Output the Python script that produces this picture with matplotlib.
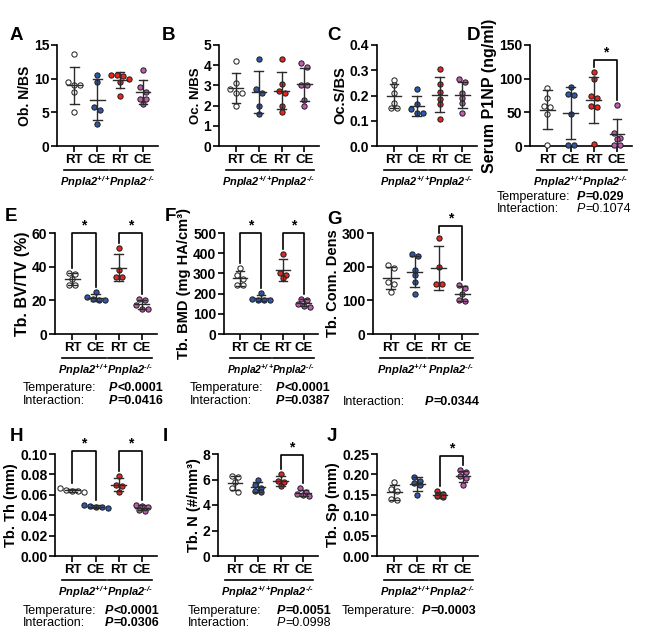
import numpy as np
import matplotlib
matplotlib.use('Agg')
import matplotlib.pyplot as plt
from matplotlib import transforms
from matplotlib.lines import Line2D
from matplotlib.text import Annotation

plt.rcParams['font.family'] = 'Liberation Sans'
plt.rcParams['font.weight'] = 'bold'
plt.rcParams['axes.labelweight'] = 'bold'
plt.rcParams['mathtext.fontset'] = 'custom'
plt.rcParams['mathtext.rm'] = 'Liberation Sans:italic:bold'
plt.rcParams['mathtext.it'] = 'Liberation Sans:italic:bold'
plt.rcParams['mathtext.bf'] = 'Liberation Sans:italic:bold'

# groups: Pnpla2+/+ RT, Pnpla2+/+ CE, Pnpla2-/- RT, Pnpla2-/- CE
groups = ['RT', 'CE', 'RT', 'CE']
genotypes = ['Pnpla2$^{+/+}$', 'Pnpla2$^{\u2010/\u2010}$']
colors = ['white', '#2f58a8', '#e8251f', '#c25bb3']

ob_nbs = [[13.6, 9.5, 9.0, 9.0, 8.0, 5.1],
          [10.5, 9.5, 5.8, 5.3, 3.2],
          [10.6, 10.5, 10.4, 10.0, 9.5, 7.5],
          [11.3, 8.7, 8.0, 7.0, 7.0, 6.2]]
oc_nbs = [[4.2, 3.1, 2.8, 2.6, 2.6, 2.0],
          [4.3, 2.8, 2.6, 2.0, 1.6],
          [4.3, 3.05, 2.7, 2.6, 2.0, 1.7],
          [4.1, 3.9, 3.0, 3.0, 2.3, 2.0]]
oc_sbs = [[0.26, 0.24, 0.21, 0.17, 0.15, 0.15],
          [0.225, 0.165, 0.145, 0.13, 0.13],
          [0.305, 0.245, 0.215, 0.185, 0.165, 0.105],
          [0.265, 0.255, 0.21, 0.19, 0.17, 0.13]]
p1np = [[86, 71, 59, 58, 48, 2],
        [88, 77, 76, 48, 2, 2],
        [110, 100, 75, 72, 60, 58, 3],
        [61, 19, 12, 10, 2, 2]]
bv_tv = [[36.5, 35.5, 32.5, 29, 29],
         [25, 22, 20.5, 20, 20],
         [51, 38, 34, 34],
         [20.5, 20, 17.5, 15, 15]]
bmd = [[329, 290, 270, 245, 242],
       [205, 175, 170, 168, 168],
       [398, 300, 292, 275],
       [175, 170, 150, 140, 135]]
conn_dens = [[205, 195, 155, 150, 125],
             [238, 232, 190, 175, 155, 120],
             [285, 200, 148, 148],
             [145, 138, 118, 100, 98]]
tb_th = [[0.067, 0.065, 0.064, 0.064, 0.063],
         [0.050, 0.049, 0.048, 0.048, 0.047],
         [0.078, 0.070, 0.069, 0.063],
         [0.050, 0.049, 0.048, 0.045, 0.044]]
tb_n = [[6.3, 6.2, 5.8, 5.3, 5.0],
        [6.0, 5.6, 5.3, 5.1, 5.0],
        [6.4, 5.9, 5.8, 5.5],
        [5.3, 5.0, 4.9, 4.8, 4.7]]
tb_sp = [[0.182, 0.163, 0.160, 0.140, 0.138],
         [0.193, 0.185, 0.180, 0.175, 0.150],
         [0.160, 0.152, 0.146, 0.144],
         [0.210, 0.207, 0.195, 0.190, 0.175]]

W, H = 653, 632
fig = plt.figure(figsize=(W / 100, H / 100), dpi=100)

# letter, data, ylabel, ylabel size, ymax, ystep, fmt, axes box (px), letter pos (px),
# brackets (x1, x2, top), stats [(label, p-value text, bold)], stats pos (label x, value x, y)
panels = [
    ('A', ob_nbs, 'Ob. N/BS', 10, 15, 5, '%d', (57, 45, 158, 146), (10, 27), [], [], None),
    ('B', oc_nbs, 'Oc. N/BS', 9.5, 5, 1, '%d', (219, 45, 319, 146), (162, 27), [], [], None),
    ('C', oc_sbs, 'Oc.S/BS', 10.5, 0.4, 0.1, '%.1f', (377, 45, 477, 146), (327, 27), [], [], None),
    ('D', p1np, 'Serum P1NP (ng/ml)', 11.5, 150, 50, '%d', (530, 45, 632, 146), (467, 27),
     [(2, 3, 128)], [('Temperature:', '=0.029', True), ('Interaction:', '=0.1074', False)], (497, 577, 197)),
    ('E', bv_tv, 'Tb. BV/TV (%)', 11.5, 60, 20, '%d', (55, 233, 157, 334), (5, 208),
     [(0, 1, 60), (2, 3, 60)], [('Temperature:', '<0.0001', True), ('Interaction:', '=0.0416', True)], (23, 109, 388)),
    ('F', bmd, 'Tb. BMD (mg HA/cm³)', 10.5, 500, 100, '%d', (224, 233, 318, 334), (165, 208),
     [(0, 1, 500), (2, 3, 500)], [('Temperature:', '<0.0001', True), ('Interaction:', '=0.0387', True)], (190, 276, 388)),
    ('G', conn_dens, 'Tb. Conn. Dens', 10.5, 300, 100, '%d', (373, 233, 478, 334), (327, 211),
     [(2, 3, 320)], [('Interaction:', '=0.0344', True)], (343, 425, 402)),
    ('H', tb_th, 'Tb. Th (mm)', 10.5, 0.10, 0.02, '%.2f', (55, 454, 157, 556), (10, 428),
     [(0, 1, 0.103), (2, 3, 0.103)], [('Temperature:', '<0.0001', True), ('Interaction:', '=0.0306', True)], (23, 105, 611)),
    ('I', tb_n, 'Tb. N (#/mm³)', 10.5, 8, 2, '%d', (218, 454, 318, 556), (163, 428),
     [(2, 3, 7.92)], [('Temperature:', '=0.0051', True), ('Interaction:', '=0.0998', False)], (188, 277, 611)),
    ('J', tb_sp, 'Tb. Sp (mm)', 10.5, 0.25, 0.05, '%.2f', (377, 454, 478, 556), (327, 428),
     [(2, 3, 0.244)], [('Temperature:', '=0.0003', True)], (342, 422, 611)),
]

XLIM = (-0.75, 3.65)


def swarm_offsets(vals, px_per_y, px_per_x, diam=5.0, step=6.0):
    order = np.argsort(vals)[::-1]
    rows = []
    for i in order:
        if rows and (vals[rows[-1][0]] - vals[i]) * px_per_y < diam:
            rows[-1].append(i)
        else:
            rows.append([i])
    off = np.zeros(len(vals))
    for r in rows:
        n = len(r)
        for k, i in enumerate(r):
            off[i] = (k - (n - 1) / 2) * step / px_per_x
    return off


for (letter, data, ylabel, ylsize, ymax, ystep, fmt, box, lpos,
     brackets, stats, spos) in panels:
    x0, y0, x1, y1 = box
    ax = fig.add_axes([x0 / W, 1 - y1 / H, (x1 - x0) / W, (y1 - y0) / H])
    px_per_y = (y1 - y0) / ymax
    px_per_x = (x1 - x0) / (XLIM[1] - XLIM[0])

    tops = []
    for i, vals in enumerate(data):
        vals = np.array(vals, dtype=float)
        off = swarm_offsets(vals, px_per_y, px_per_x)
        ax.plot(i + off, vals, 'o', ms=3.8, mfc=colors[i], mec='#1a1a1a', mew=0.7,
                ls='none', zorder=3, clip_on=False)
        m, s = vals.mean(), vals.std(ddof=1)
        ec = '#2b2b2b'
        ax.plot([i - 0.32, i + 0.32], [m, m], color=ec, lw=1.0, zorder=4)
        ax.plot([i, i], [m - s, m + s], color=ec, lw=1.0, zorder=4)
        for yy in (m - s, m + s):
            ax.plot([i - 0.19, i + 0.19], [yy, yy], color=ec, lw=1.0, zorder=4)
        tops.append(max(vals.max(), m + s))

    for (a, b, top) in brackets:
        gap = 5 / px_per_y
        ax.plot([a, a, b, b], [tops[a] + gap, top, top, tops[b] + gap],
                color='black', lw=1.2, clip_on=False, zorder=5)
        ax.annotate('*', xy=((a + b) / 2, top), xytext=(0, 0.5), textcoords='offset points',
                    ha='center', va='bottom', fontsize=10, annotation_clip=False)

    ax.set_xlim(*XLIM)
    ax.set_ylim(0, ymax)
    ax.set_yticks(np.arange(0, ymax + ystep / 2, ystep))
    ax.yaxis.set_major_formatter(matplotlib.ticker.FormatStrFormatter(fmt))
    ax.set_xticks(range(4))
    ax.set_xticklabels(groups)
    for sp in ('top', 'right'):
        ax.spines[sp].set_visible(False)
    for sp in ('left', 'bottom'):
        ax.spines[sp].set_linewidth(1.2)
    ax.tick_params(width=1.2, length=4)
    ax.tick_params(axis='x', pad=1.5, labelsize=9.5)
    ax.tick_params(axis='y', pad=1.5, labelsize=10)
    ax.set_ylabel(ylabel, fontsize=ylsize, labelpad=1.5)

    # group underline and genotype names
    trans = transforms.blended_transform_factory(ax.transData, ax.transAxes)
    line_tr = transforms.offset_copy(trans, fig=fig, y=-24, units='dots')
    text_tr = transforms.offset_copy(trans, fig=fig, y=-36, units='dots')
    geno_fs = 8 * min(1.0, px_per_x / 23.0)
    for g, (a, b) in enumerate([(-0.45, 1.45), (1.55, 3.45)]):
        ax.add_line(Line2D([a, b], [0, 0], transform=line_tr, color='black',
                           lw=1.2, clip_on=False))
        ax.text((a + b) / 2, 0, genotypes[g], transform=text_tr, ha='center',
                va='center', fontsize=geno_fs, fontstyle='italic', clip_on=False)

    fig.text(lpos[0] / W, 1 - lpos[1] / H, letter, fontsize=13.5, va='top', ha='left')

    if stats:
        lx, vx, sy = spos
        for k, (label, ptxt, bold) in enumerate(stats):
            yy = 1 - (sy + k * 12.5) / H
            w = 'bold' if bold else 'normal'
            fig.text(lx / W, yy, label, fontsize=9, fontweight='normal', va='center')
            pt = fig.text(vx / W, yy, 'P', fontsize=9, fontweight=w,
                          fontstyle='italic', va='center')
            fig.add_artist(Annotation(ptxt, xy=(1, 0.5), xycoords=pt, xytext=(0.3, 0),
                                      textcoords='offset points', ha='left',
                                      va='center', fontsize=9, fontweight=w))

fig.savefig('out.png', dpi=100)
